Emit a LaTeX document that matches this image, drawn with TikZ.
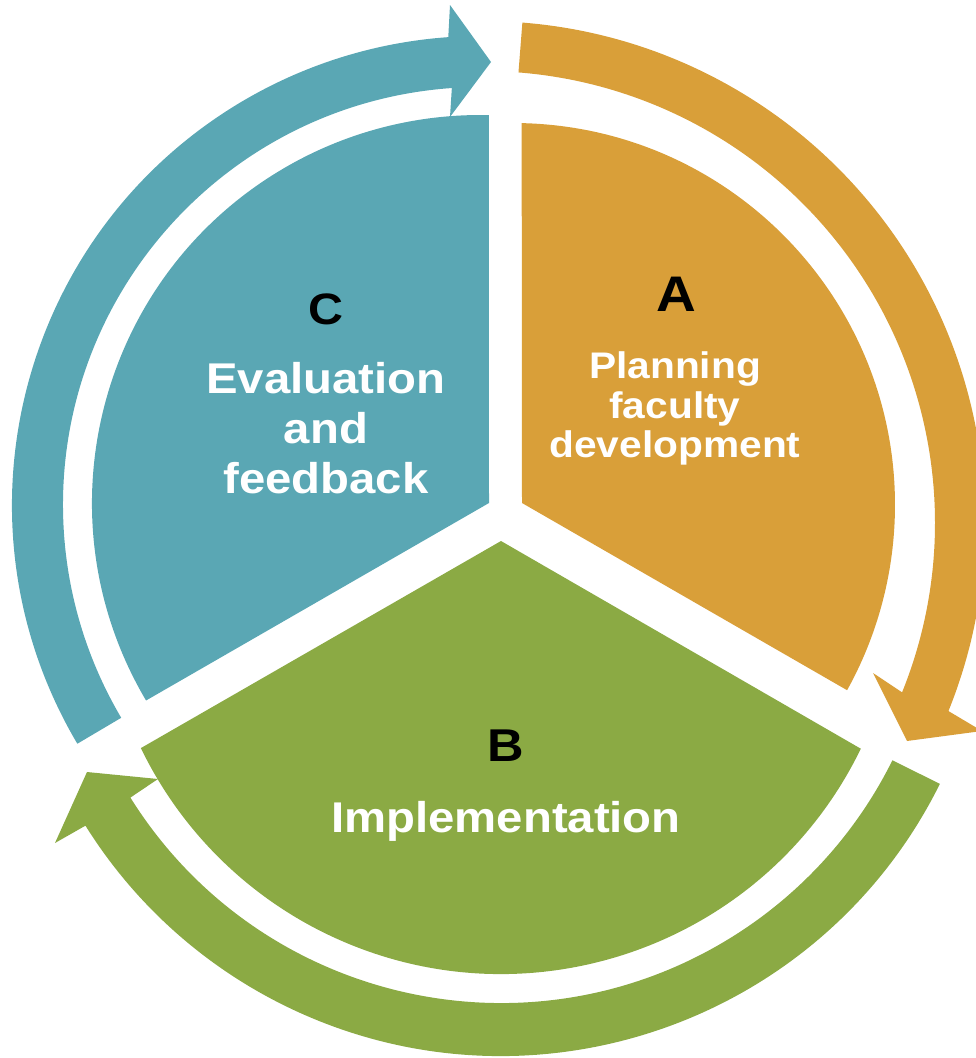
\documentclass[tikz,border=0pt]{standalone}
\usepackage{fontspec}
\setmainfont{Liberation Sans}[FakeStretch=1.1]
\usepackage{tikz}
\definecolor{planorange}{RGB}{217,159,57}
\definecolor{implgreen}{RGB}{139,170,68}
\definecolor{evalteal}{RGB}{90,167,180}
\newcommand{\ringarrow}[9]{\fill[#1] ([shift={(#2)}]#5:#4) arc[start angle=#5, end angle=#6, radius=#4]
					-- (#7) -- (#8) -- (#9)
					-- ([shift={(#2)}]#6:#3) arc[start angle=#6, end angle=#5, radius=#3] -- cycle;}

\begin{document}
\begin{tikzpicture}[x=1pt, y=-1pt,
					letterlabel/.style={font=\bfseries\fontsize{#1}{#1}\selectfont, text=black, inner sep=0pt},
					stagelabel/.style={font=\bfseries\fontsize{#1}{#1}\selectfont, text=white, inner sep=0pt, anchor=base}]

					\useasboundingbox (0,0) rectangle (976,1058);

					\coordinate (ringA) at (483,523);
					\coordinate (ringB) at (501,566);
					\coordinate (ringC) at (481,505);

					\fill[planorange] (522,503) -- ([shift={(513,505)}]-88.7:382) arc[start angle=-88.7, end angle=29, radius=382] -- cycle;
					\fill[implgreen] (501,541) -- ([shift={(501,574)}]25.9:400) arc[start angle=25.9, end angle=154.2, radius=400] -- cycle;
					\fill[evalteal] (489,503) -- ([shift={(480,503)}]149.4:388) arc[start angle=149.4, end angle=271.3, radius=388] -- cycle;

					\ringarrow{planorange}{ringA}{452}{502}{-85.5}{22}{982,731}{907,741}{873,673}
					\ringarrow{implgreen}{ringB}{437}{490}{26.4}{148}{55,843}{87,772}{158,779}
					\ringarrow{evalteal}{ringC}{418}{469}{149.4}{266}{450,5}{491,62}{450,117}

					\node[letterlabel=50] (letterA) at (676,294) {A};
					\node[stagelabel=37] (planA) at (675,378) {Planning};
					\node[stagelabel=37] (planB) at (675,418) {faculty};
					\node[stagelabel=37] (planC) at (675,457) {development};

					\node[letterlabel=46] (letterB) at (506,746) {B};
					\node[stagelabel=43] (implA) at (506,832) {Implementation};

					\node[letterlabel=44] (letterC) at (326,309) {C};
					\node[stagelabel=43] (evalA) at (326,393) {Evaluation};
					\node[stagelabel=43] (evalB) at (326,443) {and};
					\node[stagelabel=43] (evalC) at (326,493) {feedback};

\end{tikzpicture}
\end{document}
